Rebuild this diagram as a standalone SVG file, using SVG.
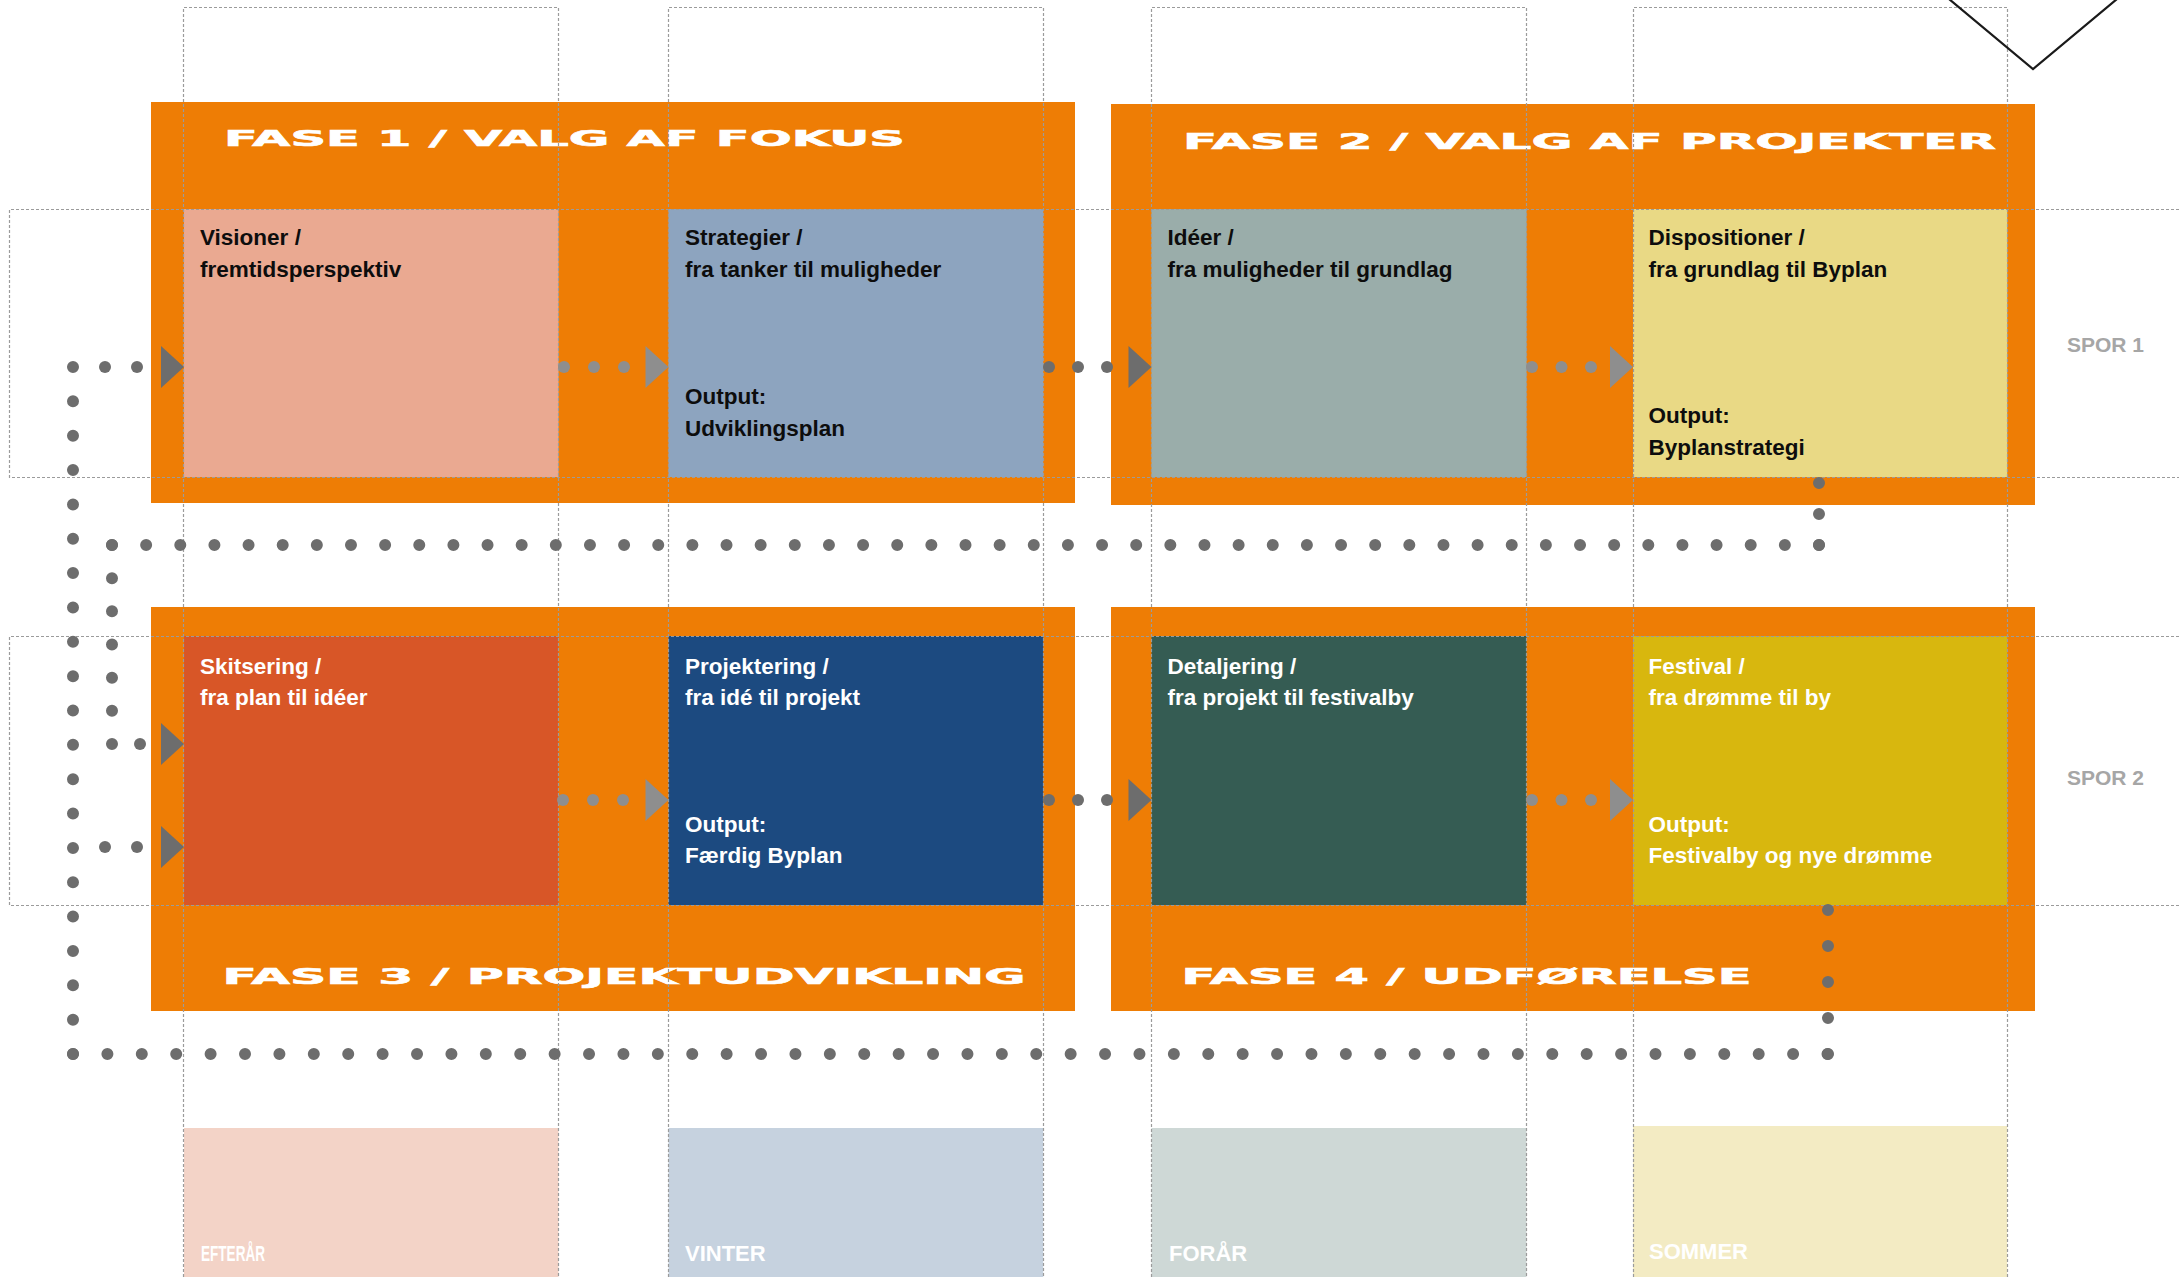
<svg xmlns="http://www.w3.org/2000/svg" width="2179" height="1277" viewBox="0 0 2179 1277">
<style>
.orange{fill:#EE7D05}
.grid{fill:none;stroke:#9b9b9b;stroke-width:1.2;stroke-dasharray:3 2}
.title{font-family:"DejaVu Sans","Liberation Sans",sans-serif;font-weight:bold;font-size:21px;fill:#ffffff;stroke:#ffffff;stroke-width:0.6}
.lbl{font-family:"Liberation Sans",Arial,sans-serif;font-weight:bold;font-size:22.5px}
.blk{fill:#0d0d0d}
.wht{fill:#ffffff}
.season{font-family:"Liberation Sans",Arial,sans-serif;font-weight:bold;font-size:22px;fill:#ffffff}
.spor{font-family:"Liberation Sans",Arial,sans-serif;font-weight:bold;font-size:21px;fill:#a6a6a6}
.dd{fill:#6d6d6d}
.dl{fill:#8e8e8e}
.dline{fill:none;stroke:#6d6d6d;stroke-width:12;stroke-linecap:round}
</style>
<defs>
<polygon id="tri" points="-23,-21 0,0 -23,21"/>
</defs>

<!-- phase containers -->
<g id="fase1">
<rect class="orange" x="151" y="102" width="924" height="401"/>
<text class="title" x="224" y="145.5" textLength="681" lengthAdjust="spacingAndGlyphs">FASE 1 / VALG AF FOKUS</text>
</g>
<g id="fase2">
<rect class="orange" x="1111" y="104" width="924" height="401"/>
<text class="title" x="1183" y="148.5" textLength="813" lengthAdjust="spacingAndGlyphs">FASE 2 / VALG AF PROJEKTER</text>
</g>
<g id="fase3">
<rect class="orange" x="151" y="607" width="924" height="404"/>
<text class="title" x="222.5" y="983.5" textLength="803" lengthAdjust="spacingAndGlyphs">FASE 3 / PROJEKTUDVIKLING</text>
</g>
<g id="fase4">
<rect class="orange" x="1111" y="607" width="924" height="404"/>
<text class="title" x="1181.5" y="983.5" textLength="570" lengthAdjust="spacingAndGlyphs">FASE 4 / UDFØRELSE</text>
</g>

<!-- seasons -->
<g id="efteraar">
<rect x="184" y="1128" width="374.5" height="149" fill="#F3D3C7"/>
<text class="season" x="201" y="1261" textLength="64" lengthAdjust="spacingAndGlyphs">EFTERÅR</text>
</g>
<g id="vinter">
<rect x="668.5" y="1128" width="374.7" height="149" fill="#C6D2DF"/>
<text class="season" x="685" y="1261">VINTER</text>
</g>
<g id="foraar">
<rect x="1151.5" y="1128" width="375" height="149" fill="#CED8D6"/>
<text class="season" x="1169" y="1261">FORÅR</text>
</g>
<g id="sommer">
<rect x="1633" y="1126" width="374.2" height="151" fill="#F3EBC3"/>
<text class="season" x="1649" y="1259">SOMMER</text>
</g>

<!-- spor 1 nodes -->
<g id="visioner">
<rect x="184" y="209" width="374.5" height="268" fill="#EAA991"/>
<text class="lbl blk" x="200" y="245">Visioner /</text>
<text class="lbl blk" x="200" y="276.5">fremtidsperspektiv</text>
</g>
<g id="strategier">
<rect x="668.5" y="209" width="374.7" height="268" fill="#8DA4BF"/>
<text class="lbl blk" x="685" y="245">Strategier /</text>
<text class="lbl blk" x="685" y="276.5">fra tanker til muligheder</text>
<text class="lbl blk" x="685" y="404">Output:</text>
<text class="lbl blk" x="685" y="435.5">Udviklingsplan</text>
</g>
<g id="ideer">
<rect x="1151.5" y="209" width="375" height="268" fill="#9AADAA"/>
<text class="lbl blk" x="1167.5" y="245">Idéer /</text>
<text class="lbl blk" x="1167.5" y="276.5">fra muligheder til grundlag</text>
</g>
<g id="dispositioner">
<rect x="1633" y="209" width="374.2" height="268" fill="#E9D985"/>
<text class="lbl blk" x="1648.5" y="245">Dispositioner /</text>
<text class="lbl blk" x="1648.5" y="276.5">fra grundlag til Byplan</text>
<text class="lbl blk" x="1648.5" y="423">Output:</text>
<text class="lbl blk" x="1648.5" y="455">Byplanstrategi</text>
</g>

<!-- spor 2 nodes -->
<g id="skitsering">
<rect x="184" y="636" width="374.5" height="269" fill="#D85627"/>
<text class="lbl wht" x="200" y="674">Skitsering /</text>
<text class="lbl wht" x="200" y="705">fra plan til idéer</text>
</g>
<g id="projektering">
<rect x="668.5" y="636" width="374.7" height="269" fill="#1C4A80"/>
<text class="lbl wht" x="685" y="674">Projektering /</text>
<text class="lbl wht" x="685" y="705">fra idé til projekt</text>
<text class="lbl wht" x="685" y="832">Output:</text>
<text class="lbl wht" x="685" y="863">Færdig Byplan</text>
</g>
<g id="detaljering">
<rect x="1151.5" y="636" width="375" height="269" fill="#355C53"/>
<text class="lbl wht" x="1167.5" y="674">Detaljering /</text>
<text class="lbl wht" x="1167.5" y="705">fra projekt til festivalby</text>
</g>
<g id="festival">
<rect x="1633" y="636" width="374.2" height="269" fill="#D8B70E"/>
<text class="lbl wht" x="1648.5" y="674">Festival /</text>
<text class="lbl wht" x="1648.5" y="705">fra drømme til by</text>
<text class="lbl wht" x="1648.5" y="832">Output:</text>
<text class="lbl wht" x="1648.5" y="863">Festivalby og nye drømme</text>
</g>

<!-- track labels -->
<g id="spor-labels">
<text class="spor" x="2067" y="352">SPOR 1</text>
<text class="spor" x="2067" y="785">SPOR 2</text>
</g>

<!-- guide grid -->
<g id="grid">
<path class="grid" d="M183.5,1277 V7.5 H558.5 V1277 M668.5,1277 V7.5 H1043.5 V1277 M1151.5,1277 V7.5 H1526.5 V1277 M1633.5,1277 V7.5 H2007.5 V1277"/>
<path class="grid" d="M2179,209.5 H9.5 V477.5 H2179 M2179,636.5 H9.5 V905.5 H2179"/>
</g>

<!-- top-right mark -->
<polyline points="1949,-1 2033,69 2117,-1" fill="none" stroke="#1a1a1a" stroke-width="2.2"/>

<!-- connectors -->
<g id="connectors">
<!-- feedback loop -->
<line class="dline" x1="73" y1="367" x2="73" y2="1054.5" stroke-dasharray="0 34.35"/>
<line class="dline" x1="73" y1="1054" x2="1828" y2="1054" stroke-dasharray="0 34.402"/>
<line class="dline" x1="1828" y1="910" x2="1828" y2="1054.5" stroke-dasharray="0 36"/>
<line class="dline" x1="112" y1="545" x2="1819.5" y2="545" stroke-dasharray="0 34.14"/>
<line class="dline" x1="1819" y1="483" x2="1819" y2="545.5" stroke-dasharray="0 31"/>
<line class="dline" x1="112" y1="545" x2="112" y2="744.5" stroke-dasharray="0 33.17"/>
<circle class="dd" cx="140" cy="744" r="6"/>
<circle class="dd" cx="105" cy="367" r="6"/>
<circle class="dd" cx="137" cy="367" r="6"/>
<circle class="dd" cx="105" cy="847" r="6"/>
<circle class="dd" cx="137" cy="847" r="6"/>
<use href="#tri" x="184" y="367" class="dd"/>
<use href="#tri" x="184" y="744" class="dd"/>
<use href="#tri" x="184" y="847" class="dd"/>

<!-- spor 1 flow -->
<circle class="dl" cx="564" cy="367" r="6"/>
<circle class="dl" cx="594" cy="367" r="6"/>
<circle class="dl" cx="624" cy="367" r="6"/>
<use href="#tri" x="668.5" y="367" class="dl"/>
<circle class="dd" cx="1049" cy="367" r="6"/>
<circle class="dd" cx="1078" cy="367" r="6"/>
<circle class="dd" cx="1107" cy="367" r="6"/>
<use href="#tri" x="1151.5" y="367" class="dd"/>
<circle class="dl" cx="1532" cy="367" r="6"/>
<circle class="dl" cx="1561.5" cy="367" r="6"/>
<circle class="dl" cx="1591" cy="367" r="6"/>
<use href="#tri" x="1633" y="367" class="dl"/>

<!-- spor 2 flow -->
<circle class="dl" cx="563" cy="800" r="6"/>
<circle class="dl" cx="593" cy="800" r="6"/>
<circle class="dl" cx="623" cy="800" r="6"/>
<use href="#tri" x="668.5" y="800" class="dl"/>
<circle class="dd" cx="1049" cy="800" r="6"/>
<circle class="dd" cx="1078" cy="800" r="6"/>
<circle class="dd" cx="1107" cy="800" r="6"/>
<use href="#tri" x="1151.5" y="800" class="dd"/>
<circle class="dl" cx="1532" cy="800" r="6"/>
<circle class="dl" cx="1561.5" cy="800" r="6"/>
<circle class="dl" cx="1591" cy="800" r="6"/>
<use href="#tri" x="1633" y="800" class="dl"/>
</g>
</svg>
